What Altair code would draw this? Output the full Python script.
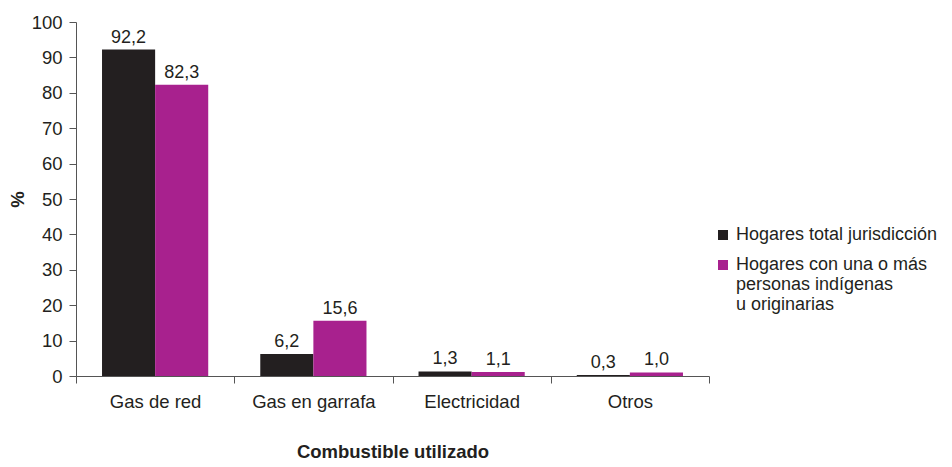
import altair as alt
import pandas as pd

categories = ["Gas de red", "Gas en garrafa", "Electricidad", "Otros"]
series = ["Hogares total jurisdicción", "Hogares con una o más|personas indígenas|u originarias"]
total_vals = [92.2, 6.2, 1.3, 0.3]
indig_vals = [82.3, 15.6, 1.1, 1.0]

rows = []
for c, a, b in zip(categories, total_vals, indig_vals):
    rows.append({"cat": c, "serie": series[0], "val": a, "lbl": f"{a:.1f}".replace(".", ",")})
    rows.append({"cat": c, "serie": series[1], "val": b, "lbl": f"{b:.1f}".replace(".", ",")})
df = pd.DataFrame(rows)

FONT = "Liberation Sans"
AX = "#555555"
FS = 18.5

x = alt.X("cat:N", sort=categories, title="Combustible utilizado",
          scale=alt.Scale(paddingInner=0, paddingOuter=0),
          axis=alt.Axis(labelAngle=0, tickBand="extent", tickSize=7, labelPadding=9,
                        titlePadding=32, domainColor=AX, tickColor=AX))
xo = alt.XOffset("serie:N", sort=series, scale=alt.Scale(paddingInner=0, paddingOuter=0.49))
y = alt.Y("val:Q", title="%", scale=alt.Scale(domain=[0, 100], nice=False),
          axis=alt.Axis(values=list(range(0, 101, 10)), labelOverlap=False,
                        tickSize=7, labelPadding=7, grid=False,
                        titlePadding=4, domainColor=AX, tickColor=AX, titleAngle=-90))
color = alt.Color("serie:N", sort=series,
                  scale=alt.Scale(domain=series, range=["#231f20", "#a8218e"]),
                  legend=alt.Legend(title=None, orient="none", legendX=638, legendY=204,
                                    symbolType="square", symbolSize=100, symbolStrokeWidth=0,
                                    labelExpr="split(datum.label, '|')", labelFontSize=18,
                                    labelFont=FONT, labelColor="#231f20", rowPadding=12,
                                    labelOffset=4, labelLimit=300))

bars = alt.Chart(df).mark_bar().encode(x=x, xOffset=xo, y=y, color=color)
text = alt.Chart(df).mark_text(baseline="bottom", dy=-3, fontSize=18, font=FONT, color="#231f20").encode(
    x=x, xOffset=xo, y=y, text="lbl:N")

chart = (bars + text).properties(
    width=633, height=354, autosize="none",
    padding={"left": 68, "top": 14, "right": 235, "bottom": 90}
).configure_view(stroke=None).configure_axis(
    labelFont=FONT, titleFont=FONT, labelFontSize=FS, titleFontSize=FS,
    labelColor="#231f20", titleColor="#231f20", titleFontWeight="bold"
)

chart.save("out.html", embed_options={"renderer": "svg", "actions": False})
